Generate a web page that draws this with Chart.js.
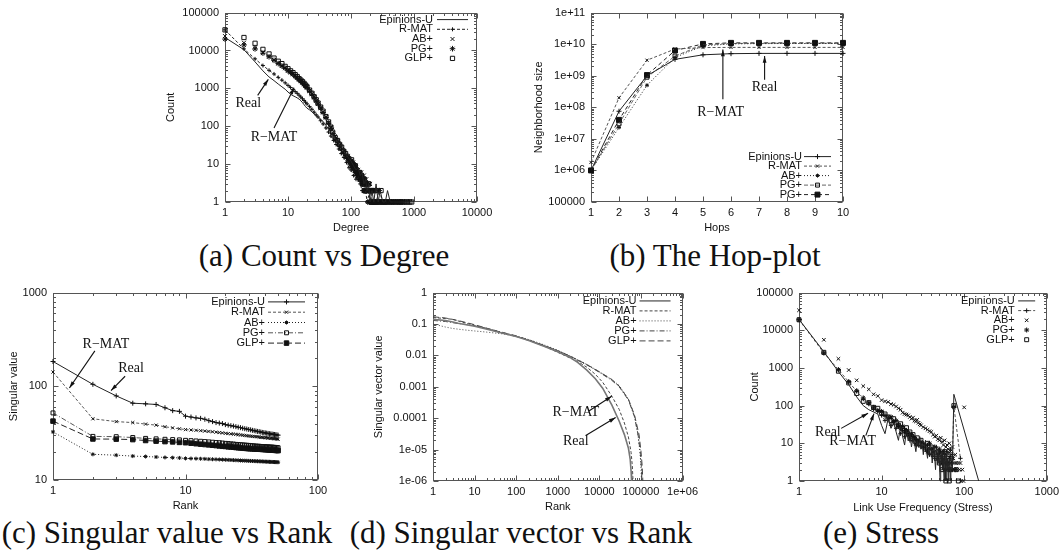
<!DOCTYPE html>
<html><head><meta charset="utf-8">
<script src="https://cdn.jsdelivr.net/npm/chart.js@4.4.1/dist/chart.umd.min.js"></script>
<style>
body{margin:0;background:#fff;width:1063px;height:555px;position:relative;overflow:hidden}
.box{position:absolute}
.cap{position:absolute;font-family:"Liberation Serif","Times New Roman",Times,serif;font-size:31px;line-height:30px;color:#111;white-space:nowrap;transform:translateX(-50%)}
</style></head><body>
<div class="box" style="left:164px;top:0"><canvas id="ca" width="336" height="235"></canvas></div>
<div class="box" style="left:532px;top:0"><canvas id="cb" width="326" height="235"></canvas></div>
<div class="box" style="left:7px;top:280px"><canvas id="cc" width="328" height="233"></canvas></div>
<div class="box" style="left:372px;top:280px"><canvas id="cd" width="330" height="234"></canvas></div>
<div class="box" style="left:748px;top:280px"><canvas id="ce" width="315" height="235"></canvas></div>
<div class="cap" style="left:324px;top:241px">(a) Count vs Degree</div>
<div class="cap" style="left:715px;top:241px">(b) The Hop-plot</div>
<div class="cap" style="left:167px;top:518px">(c) Singular value vs Rank</div>
<div class="cap" style="left:521px;top:518px">(d) Singular vector vs Rank</div>
<div class="cap" style="left:881px;top:518px">(e) Stress</div>
<script>
// (a) Count vs Degree
const aRealDeg = [1,2,3,4,5,6,7,8,9,10,11,12,13,14,15,16,17,18,19,20,22,24,26,28,30,32,35,38,41,45,50,55,60,66,72,80,90,100,110,120,130,140,150,160,170,180,190,200,215,230,250,270,290,320,350,380,420,470,520,600,700,850];
const aRealCnt = [22000,10500,5000,2900,2000,1600,1300,1100,950,800,700,640,600,560,520,470,420,370,330,300,270,240,210,190,175,160,140,120,100,80,62,50,42,33,27,20,15,12,9,7,8,5,6,3,4,2,3,1,2,1,3,1,2,1,1,2,1,1,1,1,1,1];
const aRmatDeg = [1,2,3,4,5,6,7,8,9,10,11,12,13,14,15,16,17,18,19,20,22,24,26,28,30,33,36,40,44,48,53,58,64,70,77,85,93,100,110,120,130,140,150,165,180,200,220,250,280,320,380,450];
const aRmatCnt = [35000,11000,6000,4000,3000,2400,1950,1650,1400,1200,1050,930,820,740,660,590,530,480,430,390,330,280,235,200,175,140,115,90,70,55,42,33,25,19,15,11,8,7,5,4,5,3,2,3,1,2,1,1,2,1,1,1];
const aAbDeg = [1,2,3,4,5,6,7,8,9,10,11,12,13,14,15,16,17,18,19,20,22,24,26,28,30,33,36,40,44,48,50,55,60,65,70,75,80,85,90,95,
  100,103,105,108,110,113,115,118,120,123,125,128,130,133,135,138,140,143,145,148,150,153,155,158,160,163,165,168,170,173,
  175,178,180,185,190,195,200,205,210,215,220,225,230,235,240,245,250,258,265,272,280,290,300,310,320,330,340,355,370,385,
  400,415,430,450,470,495,520];
const aAbCnt = [24000,16000,12000,9000,7000,5600,4700,4000,3500,3000,2700,2400,2150,1950,1750,1600,1450,1300,1180,1080,880,720,590,480,400,300,240,175,125,95,80,55,42,32,28,21,18,15,16,11,
  12,10,9,11,10,8,7,9,8,6,6,7,7,5,5,6,4,5,6,4,3,4,4,3,5,2,3,3,2,2,
  4,2,3,2,2,3,3,1,1,2,2,1,1,2,2,1,1,1,1,2,2,1,1,1,1,1,1,1,1,1,
  1,1,1,1,1,1,1];
const aPgDeg = [1,2,3,4,5,6,7,8,9,10,11,12,13,14,15,16,17,18,19,20,22,24,26,28,30,33,36,40,44,48,52,57,62,67,72,78,83,88,94,
  99,102,104,106,108,111,113,116,118,121,123,126,128,131,133,136,138,141,143,146,148,151,153,156,158,161,163,166,168,171,
  173,177,181,185,189,193,197,201,205,210,215,220,225,230,235,242,250,260,270,280,290,300,315,330,350,370,390,415,440,470,
  500,540,580,620,650];
const aPgCnt = [20000,14000,11000,8500,6800,5500,4500,3900,3400,2900,2600,2350,2100,1900,1700,1550,1400,1280,1150,1050,860,700,580,470,390,310,230,170,120,90,65,48,40,32,25,22,17,14,13,
  10,9,11,8,8,9,9,7,6,7,7,5,5,6,6,4,4,5,5,4,4,3,3,4,4,2,2,3,3,2,
  2,2,3,1,2,2,1,2,1,1,2,1,2,1,1,2,1,1,1,2,1,1,1,1,1,1,1,1,1,1,
  1,1,1,1,1];
const aGlpDeg = [1,2,3,4,5,6,7,8,9,10,11,12,13,14,15,16,17,18,19,20,22,24,26,28,30,33,36,40,44,48,51,56,61,66,71,76,82,87,92,
  97,100,102,105,107,110,112,115,117,120,122,125,127,130,132,135,137,140,142,145,147,150,152,155,157,160,162,165,167,170,
  172,176,182,187,192,197,202,207,212,217,222,227,232,238,245,255,265,275,287,300,315,330,345,360,390,420,450,480,520,560,
  590,620,660,700,750,800,860,920];
const aGlpCnt = [35000,22000,15500,10700,8100,6300,5200,4500,3800,3300,2900,2600,2300,2050,1800,1650,1500,1350,1220,1100,900,740,600,500,410,320,250,180,130,95,70,50,42,33,28,22,19,16,14,
  12,11,13,10,10,9,8,9,9,7,7,6,6,5,5,6,6,4,4,5,5,4,4,3,3,4,4,2,2,3,
  3,2,2,3,3,2,2,1,1,2,2,1,1,1,1,2,1,1,1,2,1,1,1,1,1,1,1,1,1,1,
  1,1,1,1,1,1,1,1];
const aXTicks = [1,10,100,1000,10000];
const aXLabels = ['1','10','100','1000','10000'];
const aYTicks = [1,10,100,1000,10000,100000];
const aYLabels = ['1','10','100','1000','10000','100000'];

// (b) Hop-plot
const bHops = [1,2,3,4,5,6,7,8,9,10];
const bReal = [1e6,7.5e7,1.0e9,3.3e9,4.6e9,5.0e9,5.1e9,5.1e9,5.1e9,5.1e9];
const bRmat = [1.8e6,2.0e8,3.1e9,7.0e9,7.8e9,7.9e9,7.9e9,7.9e9,7.9e9,7.9e9];
const bAb = [1e6,2.3e7,5.0e8,3.8e9,8.8e9,1.02e10,1.04e10,1.05e10,1.05e10,1.05e10];
const bPg = [1e6,3.0e7,9.0e8,4.2e9,9.5e9,1.05e10,1.07e10,1.07e10,1.07e10,1.07e10];
const bPg2 = [1e6,4.0e7,1.05e9,6.3e9,1.02e10,1.1e10,1.1e10,1.1e10,1.1e10,1.1e10];
const bXTicks = [1,2,3,4,5,6,7,8,9,10];
const bXLabels = ['1','2','3','4','5','6','7','8','9','10'];
const bYTicks = [1e5,1e6,1e7,1e8,1e9,1e10,1e11];
const bYLabels = ['100000','1e+06','1e+07','1e+08','1e+09','1e+10','1e+11'];

// (c) Singular value vs Rank
const cRank = [1,2,3,4,5,6,7,8,9,10,11,12,13,14,15,16,17,18,19,20,21,22,23,24,25,26,27,28,29,30,31,32,33,34,35,36,37,38,39,40,41,42,43,44,45,46,47,48,49,50];
const cReal = [184,105,79,66,65,64,59,55,54,48,47,46,45.5,44.5,43,42,41,40.5,40,39,38.5,38,37.6,37.1,36.6,36.2,35.7,35.3,35,34.6,34.3,33.9,33.6,33.3,33,32.8,32.5,32.2,32,31.8,31.6,31.4,31.2,31,30.9,30.7,30.6,30.4,30.3,30.1];
const cRmat = [142,45,42,41,39.5,38.5,37,36,35.2,34.5,34.2,33.9,33.6,33.3,33,32.7,32.4,32.1,31.8,31.5,31.3,31.1,30.9,30.7,30.5,30.3,30.1,29.9,29.7,29.5,29.4,29.2,29.1,29,28.9,28.7,28.6,28.5,28.4,28.3,28.2,28.1,28,27.9,27.8,27.7,27.6,27.5,27.4,27.3];
const cAb = [32.6,18.8,18.4,18,17.8,17.6,17.4,17.3,17.2,17,16.95,16.9,16.85,16.8,16.7,16.65,16.6,16.55,16.5,16.45,16.4,16.35,16.3,16.25,16.2,16.15,16.1,16.08,16.05,16,15.97,15.94,15.91,15.88,15.85,15.82,15.8,15.77,15.74,15.71,15.68,15.66,15.63,15.6,15.58,15.56,15.54,15.52,15.5,15.48];
const cPg = [52,29.2,29,28.4,27.8,27.5,27.2,27,26.8,26.5,26.3,26.1,25.9,25.7,25.5,25.3,25.1,25,24.8,24.6,24.5,24.3,24.2,24,23.9,23.8,23.7,23.6,23.5,23.4,23.3,23.2,23.1,23,22.95,22.9,22.8,22.75,22.7,22.65,22.6,22.55,22.5,22.45,22.4,22.35,22.3,22.25,22.2,22.1];
const cGlp = [42.5,27.4,27.3,27,26.4,26,25.7,25.5,25.2,25,24.7,24.4,24.1,23.9,23.7,23.5,23.3,23.1,22.9,22.8,22.6,22.5,22.4,22.2,22.1,22,21.9,21.8,21.7,21.6,21.55,21.5,21.45,21.4,21.35,21.3,21.25,21.2,21.15,21.1,21.05,21,20.95,20.9,20.85,20.8,20.75,20.7,20.65,20.6];
const cXTicks = [1,10,100];
const cXLabels = ['1','10','100'];
const cYTicks = [10,100,1000];
const cYLabels = ['10','100','1000'];

// (d) Singular vector vs Rank
const dRealRank = [1,2,3,4,5,10,20,50,100,200,500,1000,2000,3000,5000,8000,12000,20000,30000,40000,50000,55000,58000,59500];
const dRealVal = [0.14,0.13,0.115,0.105,0.1,0.085,0.068,0.05,0.04,0.03,0.019,0.013,0.0085,0.006,0.0034,0.0018,0.0009,0.00026,0.00008,0.00003,0.000011,0.000005,0.000002,0.000001];
const dRmatRank = [1,2,3,5,10,20,50,100,200,500,1000,2000,3000,5000,8000,12000,20000,30000,40000,50000,58000,62000,64500];
const dRmatVal = [0.16,0.15,0.14,0.115,0.09,0.07,0.05,0.04,0.03,0.019,0.0125,0.0082,0.0064,0.0042,0.0025,0.0014,0.0005,0.00019,0.00007,0.000025,0.000008,0.000003,0.000001];
const dAbRank = [1,2,3,5,10,20,50,100,200,500,1000,2000,5000,10000,20000,30000,50000,70000,85000,95000,100000,103000];
const dAbVal = [0.1,0.08,0.072,0.066,0.06,0.055,0.048,0.041,0.032,0.021,0.0145,0.0095,0.0052,0.003,0.0017,0.0011,0.0004,0.00012,0.00003,0.000008,0.000003,0.000001];
const dPgRank = [1,2,3,5,10,20,50,100,200,500,1000,2000,5000,10000,20000,30000,50000,70000,87000,97000,103000,106000];
const dPgVal = [0.13,0.12,0.11,0.1,0.088,0.072,0.053,0.042,0.031,0.02,0.014,0.0092,0.005,0.0029,0.0016,0.001,0.00038,0.00011,0.000025,0.000007,0.0000025,0.000001];
const dGlpRank = [1,2,3,5,10,20,50,100,200,500,1000,2000,5000,10000,20000,30000,50000,70000,90000,100000,107000,111000];
const dGlpVal = [0.17,0.155,0.14,0.12,0.095,0.073,0.052,0.041,0.031,0.02,0.0142,0.0094,0.0051,0.003,0.0017,0.00105,0.0004,0.000125,0.00003,0.000009,0.000003,0.000001];
const dXTicks = [1,10,100,1000,10000,100000,1000000];
const dXLabels = ['1','10','100','1000','10000','100000','1e+06'];
const dYTicks = [1e-6,1e-5,1e-4,1e-3,1e-2,1e-1,1];
const dYLabels = ['1e-06','1e-05','0.0001','0.001','0.01','0.1','1'];

// (e) Stress
const eRealStress = [1,2,3,4,5,6,7,8,9,10,11,12,13,14,15,16,17,18,19,20,21,22,23,24,25,26,27,28,29,30,31,32,33,34,35,36,37,38,39,40,41,42,43,44,45,46,47,48,49,50,51,52,53,54,55,56,57,58,59,60,61,62,63,64,65,66,67,68,69,70,72,75,150];
const eRealCnt = [19500,2700,800,360,170,100,78,68,60,30,18,45,25,35,20,12,30,15,9,22,12,18,8,14,10,6,12,8,15,7,10,5,9,12,6,4,8,5,10,7,3,6,9,4,2,6,5,3,7,4,1,5,3,6,2,4,1,7,3,1,5,2,4,1,3,2,4,1,2,3,2,200,1];
const eRmatStress = [1,2,3,4,5,6,7,8,9,10,11,12,13,14,15,16,17,18,19,20,22,24,26,28,30,32,34,36,38,40,42,44,46,48,50,52,54,56,58,60,62,64,66,68,70,72,75,90];
const eRmatCnt = [19000,2500,900,430,240,150,110,80,70,55,40,50,30,35,25,28,18,22,15,18,12,14,9,11,8,10,7,9,5,7,6,4,8,5,3,6,4,2,5,3,6,2,4,7,3,5,95,4];
const eAbStress = [1,2,3,4,5,6,7,8,9,10,11,12,13,14,15,16,17,18,19,20,21,22,23,24,25,26,27,28,29,30,32,34,36,38,40,42,44,46,48,50,52,54,56,58,60,62,64,66,68,70,72,74,76,78,80,82,85,88,90,92,95,98,100];
const eAbCnt = [34000,5600,1750,880,470,330,270,200,180,140,130,125,110,105,95,85,78,65,60,58,55,50,45,48,40,38,42,35,32,30,27,25,23,21,20,17,15,16,13,12,14,11,9,12,8,9,7,10,6,5,8,4,3,5,3,2,3,2,3,1,2,1,90];
const ePgStress = [1,2,3,4,5,6,7,8,9,10,11,12,13,14,15,16,17,18,19,20,21,22,23,24,25,26,27,28,30,32,34,36,38,40,42,44,46,48,50,52,54,56,58,60,62,64,66,68,70,72,75,78];
const ePgCnt = [19000,2500,900,430,250,160,120,90,75,70,55,45,50,38,40,30,25,28,20,22,18,15,17,12,14,10,12,9,11,8,9,6,10,7,5,8,6,4,7,5,3,6,4,2,5,3,2,4,3,2,90,2];
const eGlpStress = [1,2,3,4,5,6,7,8,9,10,11,12,13,14,15,16,17,18,19,20,21,22,23,24,25,26,27,28,30,32,34,36,38,40,42,44,46,48,50,52,54,56,58,60,62,64,66,68,70,75,80,85];
const eGlpCnt = [19000,2600,820,400,210,130,120,90,85,65,60,50,40,45,35,30,33,25,22,26,18,20,15,17,13,11,14,10,12,9,7,10,6,8,5,7,4,6,3,5,2,4,6,1,3,5,1,2,4,100,2,1];
const eXTicks = [1,10,100,1000];
const eXLabels = ['1','10','100','1000'];
const eYTicks = [1,10,100,1000,10000,100000];
const eYLabels = ['1','10','100','1000','10000','100000'];

const SANS = '"Liberation Sans", Arial, sans-serif';
const SERIF = '"Liberation Serif", "Times New Roman", serif';
Chart.defaults.font.family = SANS;
Chart.defaults.font.size = 11;
Chart.defaults.color = '#111';

const RMAT = 'R\u2212MAT';

function ser(label, xs, ys, o) {
  return {
    label, data: xs.map((x, i) => ({x, y: ys[i]})),
    showLine: !!o.line, borderDash: o.line || [], borderColor: o.lc || '#222', borderWidth: o.lw || 1,
    pointStyle: o.pt || 'circle', pointRadius: o.pt ? (o.r || 2.5) : 0, pointHoverRadius: 0,
    pointBorderColor: '#111', pointBackgroundColor: o.fill ? '#111' : 'rgba(0,0,0,0)', pointBorderWidth: 1,
    clip: false, tension: 0
  };
}

function axis(type, min, max, vals, labels, title, size, horiz) {
  return {
    type, min, max, position: horiz ? 'bottom' : 'left',
    afterBuildTicks: s => { s.ticks = vals.map(v => ({value: v})); },
    afterFit: s => { if (horiz) s.height = size; else s.width = size; },
    ticks: { autoSkip: false, maxRotation: 0, minRotation: 0, padding: horiz ? 4 : 6, color: '#111',
      callback: (v, i) => labels[i] },
    grid: { display: false, drawTicks: false },
    border: { display: false },
    title: { display: true, text: title, padding: 0, color: '#111', font: { size: 11 } }
  };
}

function drawFrame(chart) {
  const {ctx, chartArea: a} = chart;
  const L = Math.round(a.left) + 0.5, R = Math.round(a.right) - 0.5;
  const T = Math.round(a.top) + 0.5, B = Math.round(a.bottom) - 0.5;
  ctx.save();
  ctx.strokeStyle = '#555'; ctx.lineWidth = 1;
  ctx.strokeRect(L, T, R - L, B - T);
  ['x', 'y'].forEach(id => {
    const s = chart.scales[id];
    let minor = [];
    if (s.type === 'logarithmic') {
      for (let e = Math.floor(Math.log10(s.min)); e < Math.ceil(Math.log10(s.max)); e++)
        for (let m = 2; m <= 9; m++) minor.push(m * Math.pow(10, e));
      minor = minor.filter(v => v > s.min && v < s.max);
    }
    const mark = (v, len) => {
      const p = Math.round(s.getPixelForValue(v)) + 0.5;
      ctx.beginPath();
      if (id === 'x') { ctx.moveTo(p, B); ctx.lineTo(p, B - len); ctx.moveTo(p, T); ctx.lineTo(p, T + len); }
      else { ctx.moveTo(L, p); ctx.lineTo(L + len, p); ctx.moveTo(R, p); ctx.lineTo(R - len, p); }
      ctx.stroke();
    };
    s.ticks.forEach(t => mark(t.value, 5));
    minor.forEach(v => mark(v, 2.5));
  });
  ctx.restore();
}

function drawLegend(chart, leg) {
  const {ctx, chartArea: a} = chart;
  ctx.save();
  ctx.font = '11px ' + SANS;
  ctx.textAlign = 'right'; ctx.textBaseline = 'middle';
  chart.data.datasets.forEach((ds, i) => {
    const y = a.top + leg.y0 + leg.dy * i;
    const tx = a.right - leg.textRight;
    ctx.fillStyle = '#111';
    ctx.fillText(ds.label, tx, y);
    const x0 = tx + leg.gap, x1 = x0 + leg.len;
    if (ds.showLine) {
      ctx.strokeStyle = ds.borderColor; ctx.lineWidth = ds.borderWidth;
      ctx.setLineDash(ds.borderDash);
      ctx.beginPath(); ctx.moveTo(x0, y); ctx.lineTo(x1, y); ctx.stroke();
      ctx.setLineDash([]);
    }
    if (ds.pointRadius > 0) {
      ctx.strokeStyle = ds.pointBorderColor; ctx.fillStyle = ds.pointBackgroundColor; ctx.lineWidth = 1;
      Chart.helpers.drawPoint(ctx, {pointStyle: ds.pointStyle, rotation: 0, radius: ds.pointRadius, borderWidth: 1}, (x0 + x1) / 2, y);
    }
  });
  ctx.restore();
}

function drawNotes(chart, notes) {
  const {ctx} = chart;
  const sx = chart.scales.x, sy = chart.scales.y;
  const P = p => [sx.getPixelForValue(p[0]), sy.getPixelForValue(p[1])];
  ctx.save();
  ctx.font = '14px ' + SERIF; ctx.fillStyle = '#111'; ctx.strokeStyle = '#111'; ctx.lineWidth = 1.1;
  ctx.textAlign = 'center'; ctx.textBaseline = 'middle';
  notes.forEach(n => {
    const [tx, ty] = P(n.at);
    ctx.fillText(n.text, tx, ty);
    const [fx, fy] = P(n.from), [hx, hy] = P(n.to);
    ctx.beginPath(); ctx.moveTo(fx, fy); ctx.lineTo(hx, hy); ctx.stroke();
    const ang = Math.atan2(hy - fy, hx - fx), h = 7, w = 0.28;
    ctx.beginPath(); ctx.moveTo(hx, hy);
    ctx.lineTo(hx - h * Math.cos(ang - w), hy - h * Math.sin(ang - w));
    ctx.lineTo(hx - h * Math.cos(ang + w), hy - h * Math.sin(ang + w));
    ctx.closePath(); ctx.fill();
  });
  ctx.restore();
}

function plot(id, datasets, xAx, yAx, pad, leg, notes) {
  return new Chart(document.getElementById(id), {
    type: 'scatter',
    data: { datasets },
    options: {
      responsive: false, animation: false, events: [],
      layout: { padding: { top: pad[0], right: pad[1], bottom: 0, left: 0 } },
      plugins: { legend: { display: false }, tooltip: { enabled: false } },
      scales: { x: xAx, y: yAx }
    },
    plugins: [
      { id: 'gnuFrame', beforeDatasetsDraw: c => drawFrame(c) },
      { id: 'gnuLegend', afterDatasetsDraw: c => { drawLegend(c, leg); drawNotes(c, notes); } }
    ]
  });
}

// dash styles
const RM = [3, 2], AB = [1, 2], PG = [5, 2, 1, 2], GL = [6, 3];

// (a)
plot('ca', [
  ser('Epinions-U', aRealDeg, aRealCnt, {line: []}),
  ser('R-MAT', aRmatDeg, aRmatCnt, {line: RM, pt: 'cross', r: 2}),
  ser('AB+', aAbDeg, aAbCnt, {pt: 'crossRot', r: 2.8}),
  ser('PG+', aPgDeg, aPgCnt, {pt: 'star', r: 2.8}),
  ser('GLP+', aGlpDeg, aGlpCnt, {pt: 'rect', r: 3})
], axis('logarithmic', 1, 10000, aXTicks, aXLabels, 'Degree', 33, true),
   axis('logarithmic', 1, 100000, aYTicks, aYLabels, 'Count', 61, false),
   [12, 23], {y0: 7, dy: 9.7, textRight: 44, gap: 4, len: 31},
   [{text: 'Real', at: [2.34, 400], from: [3.3, 655], to: [4.87, 1730]},
    {text: RMAT, at: [6.0, 52], from: [6.0, 90], to: [12.5, 1040]}]);

// (b)
plot('cb', [
  ser('Epinions-U', bHops, bReal, {line: [], pt: 'cross', r: 2.5}),
  ser('R-MAT', bHops, bRmat, {line: RM, pt: 'crossRot', r: 2.2, lc: '#555'}),
  ser('AB+', bHops, bAb, {line: AB, pt: 'star', r: 2}),
  ser('PG+', bHops, bPg, {line: [4, 2], pt: 'rect', r: 2.8, lc: '#666'}),
  ser('PG+', bHops, bPg2, {line: [4, 3], pt: 'rect', r: 3.5, fill: true})
], axis('linear', 1, 10, bXTicks, bXLabels, 'Hops', 33, true),
   axis('logarithmic', 1e5, 1e11, bYTicks, bYLabels, 'Neighborhood size', 59, false),
   [10, 15], {y0: 144, dy: 9.5, textRight: 41, gap: 2, len: 27},
   [{text: RMAT, at: [5.63, 6.8e7], from: [5.71, 1.8e8], to: [5.71, 6.8e9]},
    {text: 'Real', at: [7.2, 4.2e8], from: [7.2, 7.5e8], to: [7.2, 4.2e9]}]);

// (c)
plot('cc', [
  ser('Epinions-U', cRank, cReal, {line: [], pt: 'cross', r: 2.5}),
  ser('R-MAT', cRank, cRmat, {line: RM, pt: 'crossRot', r: 2.2, lc: '#555'}),
  ser('AB+', cRank, cAb, {line: AB, pt: 'star', r: 2}),
  ser('PG+', cRank, cPg, {line: PG, pt: 'rect', r: 2.8, lc: '#555'}),
  ser('GLP+', cRank, cGlp, {line: GL, pt: 'rect', r: 3.2, fill: true})
], axis('logarithmic', 1, 100, cXTicks, cXLabels, 'Rank', 33, true),
   axis('logarithmic', 10, 1000, cYTicks, cYLabels, 'Singular value', 46, false),
   [9, 17], {y0: 9.3, dy: 10.3, textRight: 53, gap: 3, len: 37},
   [{text: RMAT, at: [2.51, 281], from: [2.07, 239], to: [1.33, 96]},
    {text: 'Real', at: [3.88, 156], from: [3.5, 128], to: [2.74, 90]}]);

// (d)
plot('cd', [
  ser('Epinions-U', dRealRank, dRealVal, {line: [], lc: '#777', lw: 1.6}),
  ser('R-MAT', dRmatRank, dRmatVal, {line: RM, lc: '#444'}),
  ser('AB+', dAbRank, dAbVal, {line: AB, lc: '#444'}),
  ser('PG+', dPgRank, dPgVal, {line: PG, lc: '#444'}),
  ser('GLP+', dGlpRank, dGlpVal, {line: GL, lc: '#444'})
], axis('logarithmic', 1, 1000000, dXTicks, dXLabels, 'Rank', 33, true),
   axis('logarithmic', 1e-6, 1, dYTicks, dYLabels, 'Singular vector value', 61, false),
   [10, 18], {y0: 8.3, dy: 10, textRight: 46, gap: 3, len: 31},
   [{text: RMAT, at: [2720, 1.5e-4], from: [5600, 1.7e-4], to: [19800, 5e-4]},
    {text: 'Real', at: [2720, 1.9e-5], from: [4700, 2.8e-5], to: [24600, 1.05e-4]}]);

// (e)
plot('ce', [
  ser('Epinions-U', eRealStress, eRealCnt, {line: []}),
  ser('R-MAT', eRmatStress, eRmatCnt, {line: RM, pt: 'cross', r: 2.2, lc: '#555'}),
  ser('AB+', eAbStress, eAbCnt, {pt: 'crossRot', r: 2.5}),
  ser('PG+', ePgStress, ePgCnt, {pt: 'star', r: 2.5}),
  ser('GLP+', eGlpStress, eGlpCnt, {pt: 'rect', r: 2.8})
], axis('logarithmic', 1, 1000, eXTicks, eXLabels, 'Link Use Frequency (Stress)', 34, true),
   axis('logarithmic', 1, 100000, eYTicks, eYLabels, 'Count', 51, false),
   [10, 13], {y0: 8.3, dy: 9.7, textRight: 32, gap: 3.4, len: 17},
   [{text: 'Real', at: [2.24, 20], from: [3.24, 24.9], to: [6.86, 63]},
    {text: RMAT, at: [4.45, 11], from: [6.44, 16], to: [8.09, 61.6]}]);
</script>
</body></html>
